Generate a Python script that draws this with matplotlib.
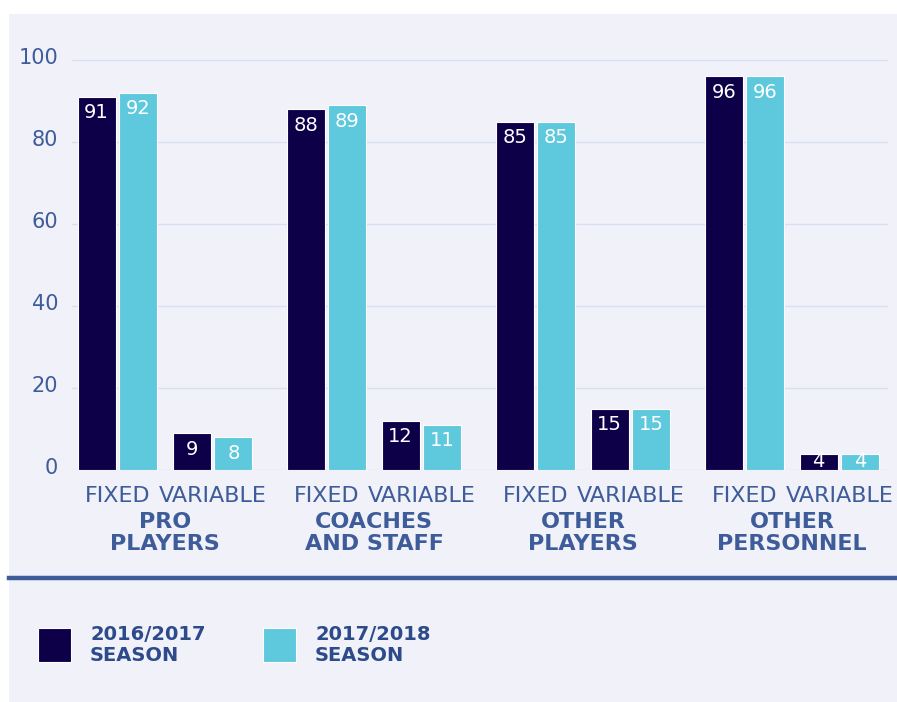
import matplotlib
matplotlib.use("Agg")
import matplotlib.pyplot as plt
import matplotlib.transforms as mtransforms
from matplotlib.patches import Rectangle
import numpy as np

# donnees
groupes = ["PRO\nPLAYERS", "COACHES\nAND STAFF", "OTHER\nPLAYERS", "OTHER\nPERSONNEL"]
sous_cat = ["FIXED", "VARIABLE"]
saisons = ["2016/2017\nSEASON", "2017/2018\nSEASON"]
val_2016 = [91, 9, 88, 12, 85, 15, 96, 4]
val_2017 = [92, 8, 89, 11, 85, 15, 96, 4]
yticks = [0, 20, 40, 60, 80, 100]

fonce = "#0d0048"
cyan = "#5ec8dc"
fond = "#f0f1f9"
texte = "#3e5c99"
grille = "#d8dff0"

plt.rcParams['font.family'] = ['DejaVu Sans']

W, H = 897, 702
fig = plt.figure(figsize=(W / 100, H / 100), dpi=100)
fig.patch.set_facecolor("white")

# panneau de fond
fig.patches.append(Rectangle((9 / W, 0), 1, (H - 14) / H, transform=fig.transFigure,
                             facecolor=fond, edgecolor="none", zorder=-10))

ax = fig.add_axes([72 / W, (H - 470) / H, (888 - 72) / W, 410 / H])
ax.set_facecolor("none")

# positions des barres
pas_groupe = 2.2
centres = []
for g in range(len(groupes)):
    for s in range(len(sous_cat)):
        centres.append(g * pas_groupe + s)
centres = np.array(centres)
largeur = 0.4
decal = 0.22

for y in yticks:
    ax.axhline(y, color=grille, lw=1, zorder=0)

b1 = ax.bar(centres - decal, val_2016, largeur, color=fonce, edgecolor="white", lw=0.8, zorder=2)
b2 = ax.bar(centres + decal, val_2017, largeur, color=cyan, edgecolor="white", lw=0.8, zorder=2)

for barres, vals in ((b1, val_2016), (b2, val_2017)):
    for b, v in zip(barres, vals):
        xc = b.get_x() + b.get_width() / 2
        if v < 6:
            # petite barre : texte au milieu
            ax.text(xc, v / 2, str(v), ha="center", va="center", color="white",
                    fontsize=14, zorder=3)
        else:
            ax.annotate(str(v), (xc, v), xytext=(0, -11.5),
                        textcoords="offset points", ha="center", va="center",
                        color="white", fontsize=14, zorder=3)

ax.set_xlim(-0.479, 8.11)
ax.set_ylim(0, 100)
ax.set_yticks(yticks)
ax.set_yticklabels([str(t) for t in yticks], fontsize=15, color=texte)
ax.tick_params(axis="y", length=0, pad=10)
decale = mtransforms.ScaledTranslation(0, 4 / 100, fig.dpi_scale_trans)
for lab in ax.get_yticklabels():
    lab.set_transform(lab.get_transform() + decale)
ax.set_xticks([])
for sp in ax.spines.values():
    sp.set_visible(False)

# libelles sous les barres
tr = ax.get_xaxis_transform()
for i, c in enumerate(centres):
    ax.text(c, (470 - 496) / 410, sous_cat[i % 2], transform=tr, ha="center", va="center",
            fontsize=16, color=texte)
for g, nom in enumerate(groupes):
    ax.text(g * pas_groupe + 0.5, (470 - 533) / 410, nom, transform=tr, ha="center", va="center",
            fontsize=16, fontweight="bold", color=texte, linespacing=1.1)

# ligne de separation
fig.add_artist(plt.Line2D([9 / W, 1], [(H - 578) / H] * 2, transform=fig.transFigure,
                          color="#3e5c99", lw=3.2))

# legende
for x0, coul, lab in ((38, fonce, saisons[0]), (263, cyan, saisons[1])):
    fig.add_artist(Rectangle((x0 / W, (H - 662) / H), 33 / W, 34 / H, transform=fig.transFigure,
                             facecolor=coul, edgecolor="white", lw=0.8))
    fig.text((x0 + 52) / W, (H - 645) / H, lab, ha="left", va="center", fontsize=14,
             fontweight="bold", color="#2d4a8a", linespacing=1.1)

fig.savefig("out.png", dpi=100)
